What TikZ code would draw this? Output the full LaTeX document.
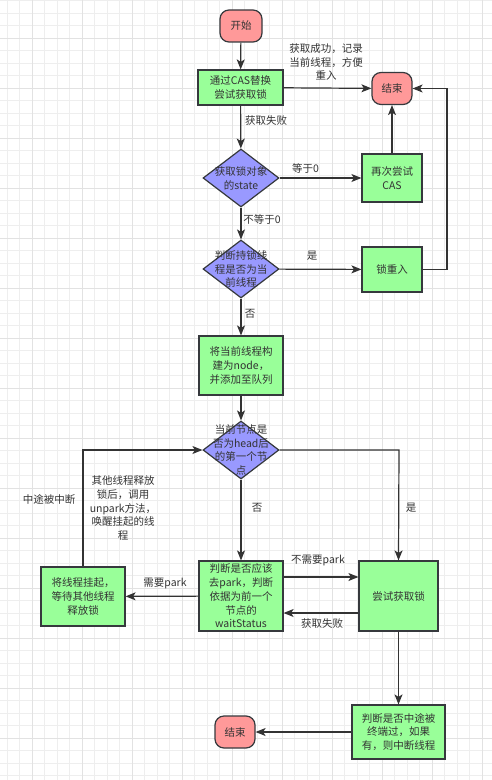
\documentclass[tikz,border=0pt]{standalone}
\usepackage{fontspec}
\setmainfont{Noto Sans CJK SC}
\usetikzlibrary{shapes.geometric,arrows.meta,calc}
\definecolor{pinkf}{RGB}{255,153,153}
\definecolor{greenf}{RGB}{153,255,153}
\definecolor{bluef}{RGB}{153,153,255}
\definecolor{edge}{RGB}{54,57,61}
\definecolor{txt}{RGB}{51,51,51}
\definecolor{gminor}{RGB}{238,238,238}
\definecolor{gmajor}{RGB}{226,226,226}
\tikzset{
  every node/.style={font=\fontsize{10.5bp}{13.8bp}\selectfont, text=txt},
  term/.style={draw=edge, fill=pinkf, line width=1.2bp, rounded corners=9bp, minimum width=40bp, minimum height=32bp, inner sep=0},
  proc/.style={draw=edge, fill=greenf, line width=1.2bp, align=center, inner sep=0},
  dec/.style={draw=edge, fill=bluef, line width=1.2bp, diamond, inner sep=0, minimum width=76bp, minimum height=58bp},
  dtext/.style={align=center, inner sep=0},
  lbl/.style={align=center, inner sep=0},
  conn/.style={draw=txt, line width=1.2bp, -{Stealth[length=10bp,width=8bp,inset=2.5bp]}},
  plain/.style={draw=txt, line width=1.2bp},
}
\begin{document}
\begin{tikzpicture}[x=1bp,y=-1bp]
\useasboundingbox (0,0) rectangle (492,780);
\fill[white] (0,0) rectangle (492,780);
% grid
\foreach \i in {0,...,39} \draw[gminor, line width=0.9bp] ({7.3+12.5*\i},0) -- ({7.3+12.5*\i},780);
\foreach \i in {0,...,62} \draw[gminor, line width=0.9bp] (0,{0.8+12.5*\i}) -- (492,{0.8+12.5*\i});
\foreach \i in {0,...,9} \draw[gmajor, line width=1bp] ({32.7+50*\i},0) -- ({32.7+50*\i},780);
\foreach \i in {0,...,14} \draw[gmajor, line width=1bp] (0,{38.3+50*\i}) -- (492,{38.3+50*\i});

% nodes
\node[term, minimum width=42bp] (start) at (241,26) {开始};
\node[proc, minimum width=85bp, minimum height=35bp] (cas) at (240.5,87.5) {通过CAS替换\\尝试获取锁};
\node[term] (end1) at (392,88.5) {结束};
\node[dec] (d1) at (241,178) {};
\node[dtext] (d1t) at (d1.center) {获取锁对象\\的state};
\node[proc, minimum width=60bp, minimum height=48bp] (retry) at (392,178) {再次尝试\\CAS};
\node[dec] (d2) at (241,269) {};
\node[dtext] (d2t) at (d2.center) {判断持锁线\\程是否为当\\前线程};
\node[proc, minimum width=60bp, minimum height=45bp] (reent) at (392,269.5) {锁重入};
\node[proc, minimum width=84bp, minimum height=59bp] (enq) at (241,365.5) {将当前线程构\\建为node，\\并添加至队列};
\node[dec] (d3) at (241,450) {};
\node[dtext] (d3t) at (d3.center) {当前节点是\\否为head后\\的第一个节\\点};
\node[proc, minimum width=84bp, minimum height=70bp] (judge) at (241,596) {判断是否应该\\去park，判断\\依据为前一个\\节点的\\waitStatus};
\node[proc, minimum width=79bp, minimum height=70bp] (try) at (398.5,596) {尝试获取锁};
\node[proc, minimum width=84bp, minimum height=59bp] (park) at (83,596.5) {将线程挂起，\\等待其他线程\\释放锁};
\node[proc, minimum width=93bp, minimum height=54bp] (intr) at (398.5,732) {判断是否中途被\\终端过，如果\\有，则中断线程};
\node[term] (end2) at (235,732) {结束};

% labels
\node[lbl] (l1) at (326,62) {获取成功，记录\\当前线程，方便\\重入};
\node[lbl] (l2) at (266,121) {获取失败};
\node[lbl] (l3) at (305.5,168) {等于0};
\node[lbl] (l4) at (262,219) {不等于0};
\node[lbl] (l5) at (312,256) {是};
\node[lbl] (l6) at (250,314) {否};
\node[lbl] (l7) at (49,499) {中途被中断};
\node[lbl] (l8) at (123,508) {其他线程释放\\锁后，调用\\unpark方法，\\唤醒挂起的线\\程};
\node[lbl] (l9) at (257,508) {否};
\node[lbl] (l10) at (411,508) {是};
\node[lbl] (l11) at (318,560) {不需要park};
\node[lbl] (l12) at (322,624) {获取失败};
\node[lbl] (l13) at (165,583) {需要park};

% coordinates
\coordinate (rr) at (447,269.5);
\coordinate (rt) at (447,88.5);
\coordinate (pk) at (83,450);
\coordinate (tr) at (399,450);

% connectors
\draw[conn] (start) -- (cas);
\draw[conn] (cas) -- (end1);
\draw[conn] (cas) -- (d1);
\draw[conn] (d1) -- (retry);
\draw[conn] (retry) -- (end1);
\draw[conn] (d1) -- (d2);
\draw[conn] (d2) -- (reent);
\draw[conn] (reent.east) -- (rr) -- (rt) -- (end1.east);
\draw[conn] (d2) -- (enq);
\draw[conn] (enq) -- (d3);
\draw[conn] (d3) -- (judge);
\draw[conn] (d3.east) -- (tr) -- (try.north);
\draw[conn] ([yshift=19bp]judge.east) -- ([yshift=19bp]try.west);
\draw[conn] ([yshift=-17bp]try.west) -- ([yshift=-17bp]judge.east);
\draw[conn] (judge) -- (park);
\draw[conn] (park.north) -- (pk) -- (d3.west);
\draw[conn] (try) -- (intr);
\draw[conn] (intr) -- (end2);
\end{tikzpicture}
\end{document}
